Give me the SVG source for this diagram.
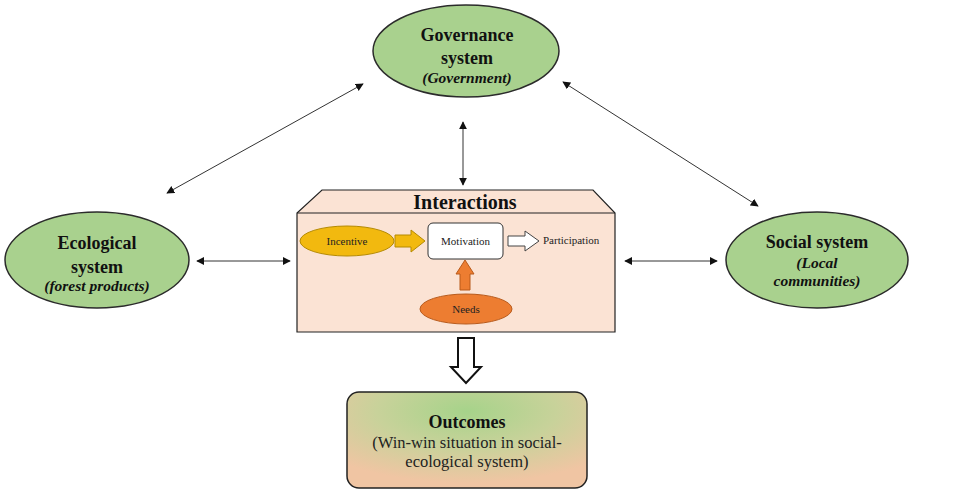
<svg xmlns="http://www.w3.org/2000/svg" width="957" height="495" viewBox="0 0 957 495">
<style>
.sys{fill:#A9D18E;stroke:#2b2b2b;stroke-width:1.5}
.b{font-family:"Liberation Serif","Times New Roman",serif;font-weight:bold;fill:#111;text-anchor:middle}
.i{font-family:"Liberation Serif","Times New Roman",serif;font-weight:bold;font-style:italic;fill:#111;text-anchor:middle}
.s{font-family:"Liberation Serif","Times New Roman",serif;fill:#222;text-anchor:middle}
.con{stroke:#333;stroke-width:1;fill:none;marker-start:url(#ah);marker-end:url(#ah)}
</style>
<defs>
<marker id="ah" viewBox="0 0 10 10" refX="9" refY="5" markerWidth="8" markerHeight="8" markerUnits="userSpaceOnUse" orient="auto-start-reverse">
<path d="M0,0 L10,5 L0,10 z" fill="#111"/>
</marker>
<radialGradient id="og" cx="0.5" cy="0.2" r="0.75">
<stop offset="0" stop-color="#A6D38A"/>
<stop offset="0.5" stop-color="#C8D29A"/>
<stop offset="1" stop-color="#F0C5A3"/>
</radialGradient>
</defs>
<rect width="957" height="495" fill="#fff"/>

<g id="connectors">
<line class="con" x1="363" y1="84" x2="167" y2="193"/>
<line class="con" x1="563" y1="82" x2="758" y2="206"/>
<line class="con" x1="197" y1="261" x2="290" y2="261"/>
<line class="con" x1="625" y1="261" x2="717" y2="261"/>
<line class="con" x1="463" y1="122" x2="463" y2="185"/>
</g>

<g id="governance">
<ellipse class="sys" cx="466" cy="51" rx="93" ry="46"/>
<text class="b" x="467" y="41" font-size="18">Governance</text>
<text class="b" x="467" y="64" font-size="18">system</text>
<text class="i" x="467" y="83" font-size="15.5">(Government)</text>
</g>

<g id="ecological">
<ellipse class="sys" cx="97" cy="260" rx="92" ry="48"/>
<text class="b" x="97" y="249" font-size="18">Ecological</text>
<text class="b" x="97" y="273" font-size="18">system</text>
<text class="i" x="97" y="291" font-size="15.5">(forest products)</text>
</g>

<g id="social">
<ellipse class="sys" cx="817" cy="260" rx="91" ry="48"/>
<text class="b" x="817" y="248" font-size="18">Social system</text>
<text class="i" x="817" y="268" font-size="15.5">(Local</text>
<text class="i" x="817" y="286" font-size="15.5">communities)</text>
</g>

<g id="interactions">
<path d="M322,190 L593,190 L615,213 L615,332 L297,332 L297,213 Z" fill="#FBE3D4" stroke="#222" stroke-width="1.2"/>
<line x1="297" y1="213" x2="615" y2="213" stroke="#222" stroke-width="1.2"/>
<text class="b" x="465" y="209" font-size="20">Interactions</text>
</g>

<g id="incentive">
<ellipse cx="347" cy="241" rx="47" ry="15" fill="#F2B90F" stroke="#B58A00" stroke-width="1"/>
<text class="s" x="347" y="245" font-size="11">Incentive</text>
</g>
<g id="arrow-incentive">
<path d="M395,235 L411,235 L411,230 L425,241 L411,252 L411,247 L395,247 Z" fill="#F2B90F" stroke="#B58A00" stroke-width="1"/>
</g>

<g id="motivation">
<rect x="428" y="223" width="75" height="36" rx="5" fill="#fff" stroke="#333" stroke-width="1"/>
<text class="s" x="465.5" y="245" font-size="11">Motivation</text>
</g>
<g id="arrow-participation">
<path d="M508,236 L525,236 L525,231 L539,241 L525,251 L525,246 L508,246 Z" fill="#fff" stroke="#444" stroke-width="1"/>
</g>
<g id="participation">
<text class="s" x="543" y="244" font-size="11" style="text-anchor:start">Participation</text>
</g>

<g id="arrow-needs">
<path d="M460,290 L460,274 L456,274 L465,260 L474,274 L470,274 L470,290 Z" fill="#ED7D31" stroke="#B85A1B" stroke-width="1"/>
</g>
<g id="needs">
<ellipse cx="466" cy="309" rx="46" ry="15" fill="#ED7D31" stroke="#B85A1B" stroke-width="1"/>
<text class="s" x="466" y="313" font-size="11">Needs</text>
</g>

<g id="arrow-outcomes">
<path d="M458,338 L474,338 L474,367 L481,367 L466,383 L451,367 L458,367 Z" fill="#fff" stroke="#111" stroke-width="2"/>
</g>

<g id="outcomes">
<rect x="347" y="392" width="240" height="96" rx="12" fill="url(#og)" stroke="#222" stroke-width="1.5"/>
<text class="b" x="467" y="428" font-size="18">Outcomes</text>
<text class="s" x="467" y="448" font-size="16.5" fill="#111">(Win-win situation in social-</text>
<text class="s" x="467" y="467" font-size="16.5" fill="#111">ecological system)</text>
</g>
</svg>
